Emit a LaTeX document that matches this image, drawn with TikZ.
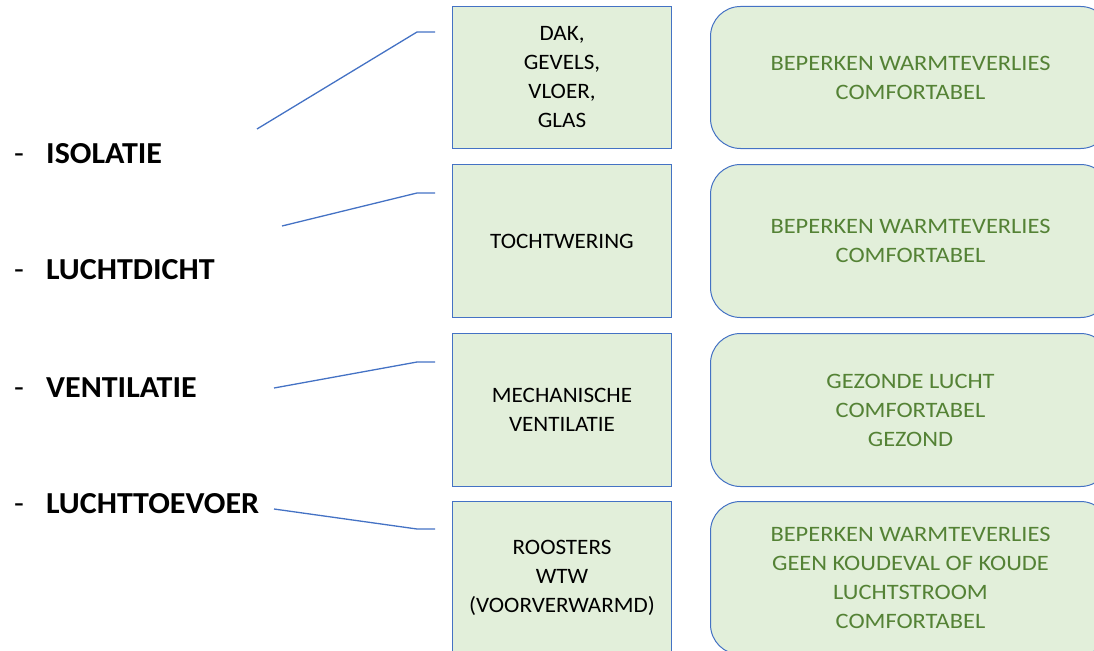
\documentclass[tikz,border=0pt]{standalone}
\usepackage{fontspec}
\setmainfont{Carlito}
\newfontfamily\rfont[FakeStretch=1.11]{Carlito}
\newfontfamily\lfont[FakeStretch=1.05]{Carlito}
\definecolor{boxgreen}{HTML}{E2EFDA}
\definecolor{boxblue}{HTML}{4472C4}
\definecolor{txtgreen}{HTML}{548235}
\begin{document}
\begin{tikzpicture}[x=1pt,y=-1pt,
  lbox/.style={draw=boxblue, fill=boxgreen, line width=1pt, minimum width=219pt,
    align=center, font=\lfont\fontsize{22}{29}\selectfont, inner sep=0pt, anchor=north west},
  rbox/.style={draw=boxblue, fill=boxgreen, line width=1pt, minimum width=400pt,
    rounded corners=30pt, align=center, text=txtgreen,
    font=\rfont\fontsize{22}{29}\selectfont, inner sep=0pt, anchor=north west},
  lab/.style={anchor=base west, inner sep=0pt, font=\lfont\fontsize{30.5}{36}\selectfont},
  conn/.style={draw=boxblue, line width=1.3pt}]
\useasboundingbox (0,0) rectangle (1094,650);
\clip (0,0) rectangle (1094,650);
% left boxes
\node[lbox, minimum height=142pt] (b1) at (452,6) {DAK,\\GEVELS,\\VLOER,\\GLAS};
\node[lbox, minimum height=153pt] (b2) at (452,164) {TOCHTWERING};
\node[lbox, minimum height=153pt] (b3) at (452,333) {MECHANISCHE\\VENTILATIE};
\node[lbox, minimum height=153pt] (b4) at (452,501) {ROOSTERS\\WTW\\(VOORVERWARMD)};
% right boxes
\node[rbox, minimum height=142pt] (r1) at (710,6) {BEPERKEN WARMTEVERLIES\\COMFORTABEL};
\node[rbox, minimum height=153pt] (r2) at (710,164) {BEPERKEN WARMTEVERLIES\\COMFORTABEL};
\node[rbox, minimum height=153pt] (r3) at (710,333) {GEZONDE LUCHT\\COMFORTABEL\\GEZOND};
\node[rbox, minimum height=153pt] (r4) at (710,501) {BEPERKEN WARMTEVERLIES\\GEEN KOUDEVAL OF KOUDE\\LUCHTSTROOM\\COMFORTABEL};
% labels
\node[lab] (l1) at (14,163) {\makebox[32pt][l]{-}\bfseries ISOLATIE};
\node[lab] (l2) at (14,279) {\makebox[32pt][l]{-}\bfseries LUCHTDICHT};
\node[lab] (l3) at (14,397) {\makebox[32pt][l]{-}\bfseries VENTILATIE};
\node[lab] (l4) at (14,513) {\makebox[32pt][l]{-}\bfseries LUCHTTOEVOER};
% connectors
\coordinate (s1) at (257,129); \coordinate (k1) at (417,32); \coordinate (e1) at (435,32);
\coordinate (s2) at (282,226); \coordinate (k2) at (417,193); \coordinate (e2) at (435,193);
\coordinate (s3) at (274,388); \coordinate (k3) at (417,362); \coordinate (e3) at (435,362);
\coordinate (s4) at (274,509); \coordinate (k4) at (417,529); \coordinate (e4) at (435,529);
\draw[conn] (s1) -- (k1) -- (e1);
\draw[conn] (s2) -- (k2) -- (e2);
\draw[conn] (s3) -- (k3) -- (e3);
\draw[conn] (s4) -- (k4) -- (e4);
\end{tikzpicture}
\end{document}
